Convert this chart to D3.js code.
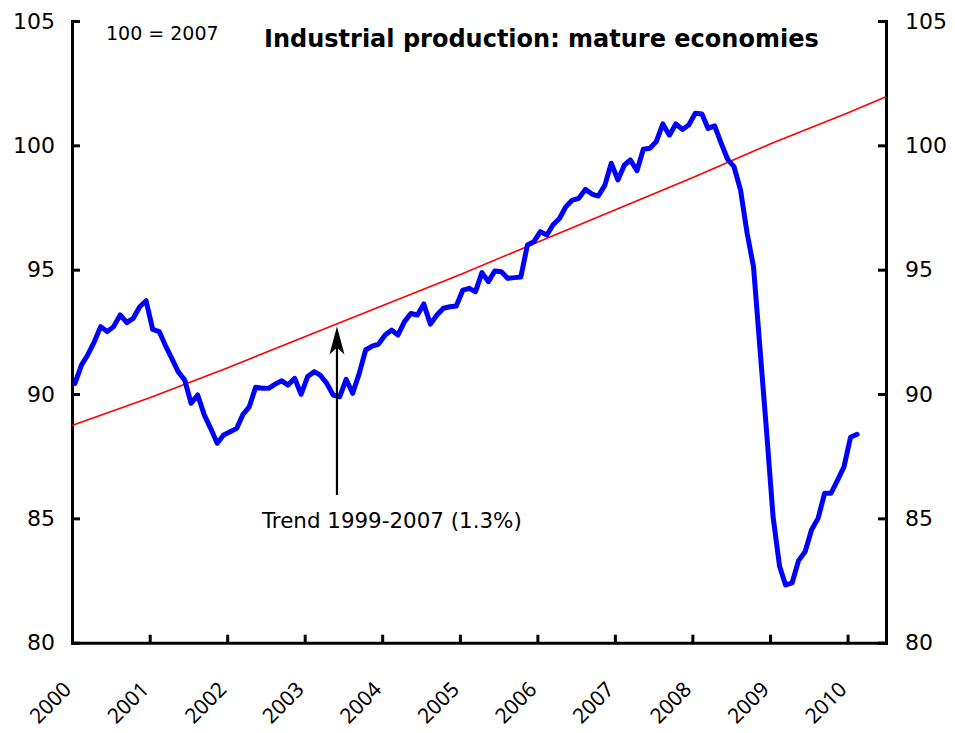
<!DOCTYPE html>
<meta charset="utf-8">
<head>
  <title>Industrial production: mature economies</title>
</head>

<style>
body {
  margin: 0;
  background: #fff;
  font-family: "DejaVu Sans", Verdana, sans-serif;
}
</style>

<body>
  <div id="chart"></div>

  <script src="https://cdnjs.cloudflare.com/ajax/libs/d3/7.8.5/d3.min.js"></script>

  <script>
// monthly index, Jan 2000 - Feb 2010 (100 = 2007)
var production = [
  90.43, 91.17, 91.57, 92.10, 92.71, 92.51, 92.71, 93.18, 92.87, 93.04, 93.51, 93.75,
  92.60, 92.51, 91.97, 91.43, 90.90, 90.56, 89.63, 89.96, 89.16, 88.62, 88.02, 88.35,
  88.48, 88.62, 89.16, 89.49, 90.27, 90.23, 90.23, 90.40, 90.53, 90.36, 90.63, 89.99,
  90.70, 90.90, 90.76, 90.43, 89.96, 89.89, 90.59, 90.03, 90.83, 91.77, 91.93, 92.01,
  92.37, 92.57, 92.37, 92.91, 93.24, 93.18, 93.62, 92.81, 93.18, 93.45, 93.51, 93.54,
  94.18, 94.25, 94.11, 94.88, 94.52, 94.95, 94.92, 94.65, 94.68, 94.71, 95.99, 96.12,
  96.53, 96.39, 96.80, 97.06, 97.53, 97.80, 97.87, 98.23, 98.04, 97.96, 98.40, 99.28,
  98.61, 99.21, 99.41, 98.98, 99.84, 99.88, 100.15, 100.86, 100.41, 100.86, 100.64, 100.82,
  101.29, 101.26, 100.68, 100.78, 100.10, 99.44, 99.14, 98.20, 96.46, 95.12, 91.77, 88.55,
  85.07, 83.06, 82.32, 82.41, 83.30, 83.66, 84.53, 85.00, 86.01, 86.01, 86.54, 87.07,
  88.26, 88.38
];

// trend 1999-2007 (1.3% a year), read at the start of each year
var trendDates = ["2000-01-01", "2001-01-01", "2002-01-01", "2003-01-01", "2004-01-01", "2005-01-01",
                  "2006-01-01", "2007-01-01", "2008-01-01", "2009-01-01", "2010-01-01", "2010-07-01"];
var trendValues = [88.73, 89.85, 91.05, 92.30, 93.55, 94.80, 96.10, 97.40, 98.70, 100.05, 101.30, 101.95];

var yTicks = [80, 85, 90, 95, 100, 105];
var yearTicks = [2000, 2001, 2002, 2003, 2004, 2005, 2006, 2007, 2008, 2009, 2010];

var width = 955, height = 733;
var plotLeft = 72, plotRight = 886, plotTop = 21, plotBottom = 642.7;

var svg = d3.select('#chart').append('svg')
  .attr('width', width)
  .attr('height', height);

var x = d3.scaleTime()
  .domain([new Date(2000, 0, 1), new Date(2010, 6, 1)])
  .range([plotLeft, plotRight]);

var y = d3.scaleLinear()
  .domain([80, 105])
  .range([plotBottom, plotTop]);

var parse = d3.timeParse('%Y-%m-%d');

var prodData = production.map(function(v, i) {
  return { date: new Date(2000, i, 15), value: v };
});
var trendData = trendDates.map(function(d, i) {
  return { date: parse(d), value: trendValues[i] };
});

var line = d3.line()
  .x(function(d) { return x(d.date); })
  .y(function(d) { return y(d.value); });

// axes
function styleAxis(g) {
  g.select('.domain').attr('stroke', '#000').attr('stroke-width', 3).attr('stroke-linecap', 'square');
  g.selectAll('.tick line').attr('stroke', '#000').attr('stroke-width', 3);
  g.selectAll('.tick text').attr('fill', '#000');
  g.attr('font-family', '"DejaVu Sans", Verdana, sans-serif').attr('font-size', 22);
}

svg.append('g')
  .attr('transform', 'translate(' + plotLeft + ',0)')
  .call(d3.axisLeft(y).tickValues(yTicks).tickSizeInner(-8).tickSizeOuter(0).tickPadding(17))
  .call(styleAxis);

svg.append('g')
  .attr('transform', 'translate(' + plotRight + ',0)')
  .call(d3.axisRight(y).tickValues(yTicks).tickSizeInner(-8).tickSizeOuter(0).tickPadding(19))
  .call(styleAxis);

var xAxis = svg.append('g')
  .attr('transform', 'translate(0,' + plotBottom + ')')
  .call(d3.axisBottom(x)
    .tickValues(yearTicks.map(function(yr) { return new Date(yr, 0, 1); }))
    .tickFormat(d3.timeFormat('%Y'))
    .tickSizeInner(-8).tickSizeOuter(0))
  .call(styleAxis);

xAxis.selectAll('.tick text')
  .attr('font-family', '"Noto Sans", "Open Sans", sans-serif')
  .attr('font-size', 21)
  .attr('text-anchor', 'end')
  .attr('x', 0).attr('y', 0).attr('dy', 0)
  .attr('transform', 'translate(0,48) rotate(-45)');

// series
svg.append('path')
  .datum(trendData)
  .attr('fill', 'none')
  .attr('stroke', '#ff0000')
  .attr('stroke-width', 1.6)
  .attr('d', line);

svg.append('path')
  .datum(prodData)
  .attr('fill', 'none')
  .attr('stroke', '#0000ff')
  .attr('stroke-width', 5)
  .attr('stroke-linejoin', 'round')
  .attr('stroke-linecap', 'round')
  .attr('d', line);

// arrow annotation
var arrowX = x(new Date(2003, 5, 2));
var arrowTip = y(92.72), arrowTail = y(85.94);

svg.append('line')
  .attr('x1', arrowX).attr('x2', arrowX)
  .attr('y1', arrowTail).attr('y2', arrowTip + 10)
  .attr('stroke', '#000')
  .attr('stroke-width', 2.2);

svg.append('path')
  .attr('d', 'M' + arrowX + ',' + arrowTip +
    'L' + (arrowX + 7.5) + ',' + (arrowTip + 28) +
    'L' + arrowX + ',' + (arrowTip + 21) +
    'L' + (arrowX - 7.5) + ',' + (arrowTip + 28) + 'Z')
  .attr('fill', '#000');

svg.append('text')
  .attr('x', arrowX - 75)
  .attr('y', arrowTail + 33)
  .attr('font-size', 21.4)
  .attr('fill', '#000')
  .text('Trend 1999-2007 (1.3%)');

// titles
svg.append('text')
  .attr('x', 106)
  .attr('y', 40)
  .attr('font-size', 19)
  .text('100 = 2007');

svg.append('text')
  .attr('x', 264)
  .attr('y', 47)
  .attr('font-size', 24)
  .attr('font-weight', 'bold')
  .text('Industrial production: mature economies');
  </script>
</body>
</html>
